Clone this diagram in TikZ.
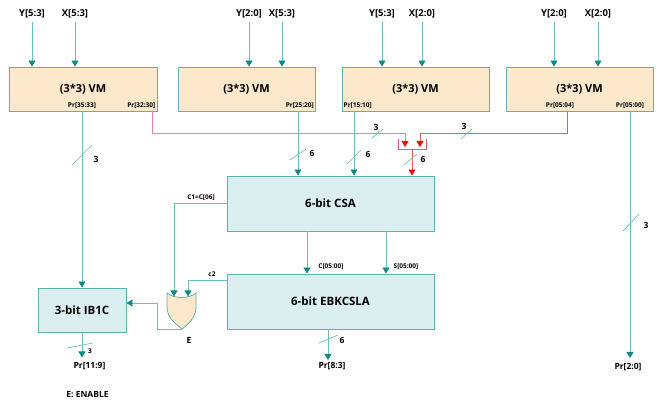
\documentclass[tikz,border=0pt]{standalone}
\usepackage{fontspec}
\setmainfont{Open Sans}
\usetikzlibrary{arrows.meta}
\definecolor{tline}{HTML}{6CC0BC}
\definecolor{tdark}{HTML}{108A85}
\definecolor{tborder}{HTML}{5AB4AE}
\definecolor{vmfill}{HTML}{FCE8CB}
\definecolor{csafill}{HTML}{DBEFF0}
\definecolor{pinkline}{HTML}{E57FB0}
\definecolor{redline}{HTML}{E06060}
\definecolor{redtip}{HTML}{F01010}
\tikzset{
  vmbox/.style={draw=tborder, fill=vmfill, line width=0.9pt, minimum height=44pt, inner sep=0pt, font=\fontsize{11}{12}\selectfont\bfseries},
  addbox/.style={draw=tborder, fill=csafill, line width=0.9pt, inner sep=0pt, font=\fontsize{11.5}{12}\selectfont\bfseries},
  inlbl/.style={font=\fontsize{9.5}{10}\selectfont\bfseries, inner sep=1pt},
  sublbl/.style={font=\fontsize{6.5}{7}\selectfont\bfseries, inner sep=0.5pt},
  outlbl/.style={font=\fontsize{8.5}{9}\selectfont\bfseries, inner sep=0.5pt},
  numlbl/.style={font=\fontsize{8.5}{9}\selectfont\bfseries, inner sep=0.5pt},
  tarr/.style={draw=tline, line width=0.9pt, -{Triangle[width=7pt,length=6pt,color=tdark]}},
  tln/.style={draw=tline, line width=0.9pt},
  slash/.style={draw=tline, line width=0.7pt},
  parr/.style={draw=pinkline, line width=0.9pt, -{Triangle[width=7pt,length=6pt,color=redtip]}},
  rarr/.style={draw=redline, line width=0.9pt, -{Triangle[width=7pt,length=6pt,color=redtip]}},
  rln/.style={draw=redline, line width=0.9pt},
}
\begin{document}
\begin{tikzpicture}[x=1pt,y=-1pt]
\useasboundingbox (0,0) rectangle (657,403);
% VM boxes
\node[vmbox, minimum width=148pt] (vm1) at (83,89) {(3*3) VM};
\node[vmbox, minimum width=137pt] (vm2) at (246.5,89) {(3*3) VM};
\node[vmbox, minimum width=147pt] (vm3) at (415.5,89) {(3*3) VM};
\node[vmbox, minimum width=147pt] (vm4) at (579.5,89) {(3*3) VM};
% input labels
\node[inlbl] (i1) at (32,14) {Y[5:3]};
\node[inlbl] (i2) at (75,14) {X[5:3]};
\node[inlbl] (i3) at (249,14) {Y[2:0]};
\node[inlbl] (i4) at (282,14) {X[5:3]};
\node[inlbl] (i5) at (382,14) {Y[5:3]};
\node[inlbl] (i6) at (422,14) {X[2:0]};
\node[inlbl] (i7) at (554,14) {Y[2:0]};
\node[inlbl] (i8) at (598,14) {X[2:0]};
\foreach \i/\b in {i1/vm1,i2/vm1,i3/vm2,i4/vm2,i5/vm3,i6/vm3,i7/vm4,i8/vm4}{
  \draw[tarr] ([yshift=-3pt]\i.south) -- (\i.south |- \b.north);
}
% sub labels
\node[sublbl] (p1) at (82,106) {Pr[35:33]};
\node[sublbl, anchor=east] (p2) at (156,106) {Pr[32:30]};
\node[sublbl, anchor=east] (p3) at (314.5,106) {Pr[25:20]};
\node[sublbl, anchor=west] (p4) at (343,106) {Pr[15:10]};
\node[sublbl] (p5) at (560,106) {Pr[05:04]};
\node[sublbl] (p6) at (630,106) {Pr[05:00]};
% adders
\node[addbox, minimum width=207pt, minimum height=55pt] (csa) at (330.5,203.5) {6-bit CSA};
\node[addbox, minimum width=207pt, minimum height=55pt] (ebk) at (330.5,301.5) {6-bit EBKCSLA};
\node[addbox, minimum width=88pt, minimum height=44pt] (ib) at (82,310) {3-bit IB1C};
% helper coordinates
\coordinate (v1) at (82,111);
\coordinate (v2) at (298,111);
\coordinate (v3) at (354,111);
\coordinate (v4) at (630,111);
\coordinate (xc) at (307,0);
\coordinate (xs) at (386,0);
\coordinate (xo) at (328,0);
\coordinate (y203) at (0,203);
\coordinate (y280) at (0,280);
\coordinate (y303) at (0,303);
% vm1 -> IB1C
\draw[tarr] (v1) -- (ib.north);
\draw[slash] (72,165) -- (92,145);
\node[numlbl] (n1) at (96,159) {3};
% pink route
\coordinate (pk0) at (152,111);
\coordinate (pk1) at (152,133);
\coordinate (pk2) at (405,133);
\coordinate (pk3) at (405,147);
\draw[parr] (pk0) -- (pk1) -- (pk2) -- (pk3);
\draw[slash] (372,138) -- (383,129);
\node[numlbl] (n2) at (376,127) {3};
% red route
\coordinate (rd0) at (567,111);
\coordinate (rd1) at (567,133);
\coordinate (rd2) at (420,133);
\coordinate (rd3) at (420,147);
\draw[rarr] (rd0) -- (rd1) -- (rd2) -- (rd3);
\draw[slash] (461,139) -- (472,129);
\node[numlbl] (n3) at (464,126) {3};
% bracket
\coordinate (bk1) at (398,139);
\coordinate (bk2) at (398,149);
\coordinate (bk3) at (426,149);
\coordinate (bk4) at (426,139);
\coordinate (bkm) at (412,149);
\draw[rln] (bk1) -- (bk2) -- (bk3) -- (bk4);
\draw[rarr] (bkm) -- (bkm |- csa.north);
\draw[slash] (404,165) -- (417,154);
\node[numlbl] (n4) at (423,159) {6};
% vm2, vm3 -> CSA
\draw[tarr] (v2) -- (v2 |- csa.north);
\draw[slash] (290,160) -- (306,149);
\node[numlbl] (n5) at (312,153) {6};
\draw[tarr] (v3) -- (v3 |- csa.north);
\draw[slash] (347,164) -- (361,150);
\node[numlbl] (n6) at (368,154) {6};
% CSA -> EBKCSLA
\draw[tarr] (xc |- csa.south) -- (xc |- ebk.north);
\node[sublbl] (cl) at (331,267) {C[05:00]};
\draw[tarr] (xs |- csa.south) -- (xs |- ebk.north);
\node[sublbl] (sl) at (406,267) {S[05:00]};
% OR gate
\draw[draw=tborder, fill=vmfill, line width=0.8pt]
  (167,293) -- (167,307) .. controls (167,318) and (176,324) .. (182,329)
  .. controls (188,324) and (196,318) .. (196,307) -- (196,293)
  .. controls (189,299) and (174,299) .. (167,293) -- cycle;
\coordinate (gin1) at (174,296.5);
\coordinate (gin2) at (188,296.5);
\coordinate (gout) at (182,329);
\node[numlbl] (E) at (189,340) {E};
% carries
\draw[tarr] (csa.west |- y203) -- (gin1 |- y203) -- (gin1);
\node[sublbl] (c1) at (201,198) {C1=C[06]};
\draw[tarr] (ebk.west |- y280) -- (gin2 |- y280) -- (gin2);
\node[sublbl] (c2) at (212,274.5) {c2};
% gate -> IB1C
\coordinate (gk1) at (157,329);
\draw[tarr] (gout) -- (gk1) -- (gk1 |- y303) -- (ib.east |- y303);
% outputs
\coordinate (o1t) at (82,357.5);
\node[outlbl] (o1) at (89.5,366) {Pr[11:9]};
\draw[tarr] (ib.south) -- (o1t);
\draw[slash] (67,348) -- (93,343);
\node[sublbl] (n7) at (90,351.5) {3};
\coordinate (o2t) at (328,360);
\node[outlbl] (o2) at (332,366) {Pr[8:3]};
\draw[tarr] (xo |- ebk.south) -- (o2t);
\draw[slash] (319,343) -- (338,335);
\node[numlbl] (n8) at (342,340) {6};
\coordinate (o3t) at (630,358);
\node[outlbl] (o3) at (628,367) {Pr[2:0]};
\draw[tarr] (v4) -- (o3t);
\draw[slash] (623,231) -- (639,214);
\node[numlbl] (n9) at (646,225) {3};
\node[outlbl] (leg) at (87.5,395) {E: ENABLE};
\end{tikzpicture}
\end{document}
